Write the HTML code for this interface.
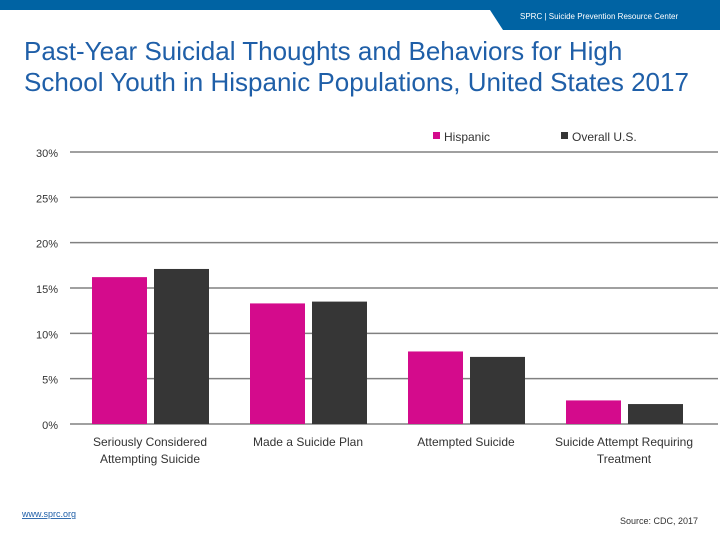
<!DOCTYPE html>
<html><head><meta charset="utf-8"><style>
body{margin:0;width:720px;height:540px;background:#fff;font-family:"Liberation Sans",sans-serif;overflow:hidden;position:relative}
</style></head><body>
<svg width="720" height="540" style="position:absolute;left:0;top:0">
<rect x="0" y="0" width="720" height="10" fill="#0063a3"/>
<polygon points="488,0 720,0 720,30 503,30 490,10" fill="#0063a3"/>
<text x="520" y="19" font-size="8" fill="#fff" font-family="Liberation Sans">SPRC  |  Suicide Prevention Resource Center</text>
<text x="24" y="60" font-size="26" fill="#1f5fa8">Past-Year Suicidal Thoughts and Behaviors for High</text>
<text x="24" y="91" font-size="26" fill="#1f5fa8">School Youth in Hispanic Populations, United States 2017</text>
<g id="grid"></g><g id="bars"></g><g id="labels"></g>
<rect x="433" y="132" width="7" height="7" fill="#d40b8c"/>
<text x="444" y="141" font-size="12" fill="#333">Hispanic</text>
<rect x="561" y="132" width="7" height="7" fill="#363636"/>
<text x="572" y="141" font-size="12" fill="#333">Overall U.S.</text>
<text x="22" y="517" font-size="9" fill="#1f5fa8" text-decoration="underline">www.sprc.org</text>
<text x="698" y="524" font-size="9" fill="#333" text-anchor="end">Source: CDC, 2017</text>
</svg>
<script>
const categories=[["Seriously Considered","Attempting Suicide"],["Made a Suicide Plan"],["Attempted Suicide"],["Suicide Attempt Requiring","Treatment"]];
const hispanic=[16.2,13.3,8.0,2.6];
const overall=[17.1,13.5,7.4,2.2];
const ticks=[0,5,10,15,20,25,30];
const ns="http://www.w3.org/2000/svg";
const y0=424,pxPer=272/30,xl=71,gw=158;
const y=v=>y0-v*pxPer;
function mk(t,a,p){const e=document.createElementNS(ns,t);for(const k in a)e.setAttribute(k,a[k]);document.getElementById(p).appendChild(e);return e;}
ticks.forEach(t=>{
 const l=mk('line',{x1:70,x2:718,y1:y(t),y2:y(t),stroke:'#808080','stroke-width':1.5},'grid');
 
 
 const tx=mk('text',{x:58,y:y(t)+5,'font-size':11,fill:'#333','text-anchor':'end'},'grid');
 tx.textContent=t+'%';
 
 
});
categories.forEach((c,i)=>{
 const cx=xl+gw*i+gw/2;
 const b1=mk('rect',{x:cx-58,y:y(hispanic[i]),width:55,height:hispanic[i]*pxPer,fill:'#d40b8c'},'bars');
 
 
 const b2=mk('rect',{x:cx+4,y:y(overall[i]),width:55,height:overall[i]*pxPer,fill:'#363636'},'bars');
 
 
 c.forEach((s,j)=>{
  const tx=mk('text',{x:cx,y:446+j*17,'font-size':12,fill:'#333','text-anchor':'middle'},'labels');
  tx.textContent=s;
  
  
 });
});
</script>
</body></html>
